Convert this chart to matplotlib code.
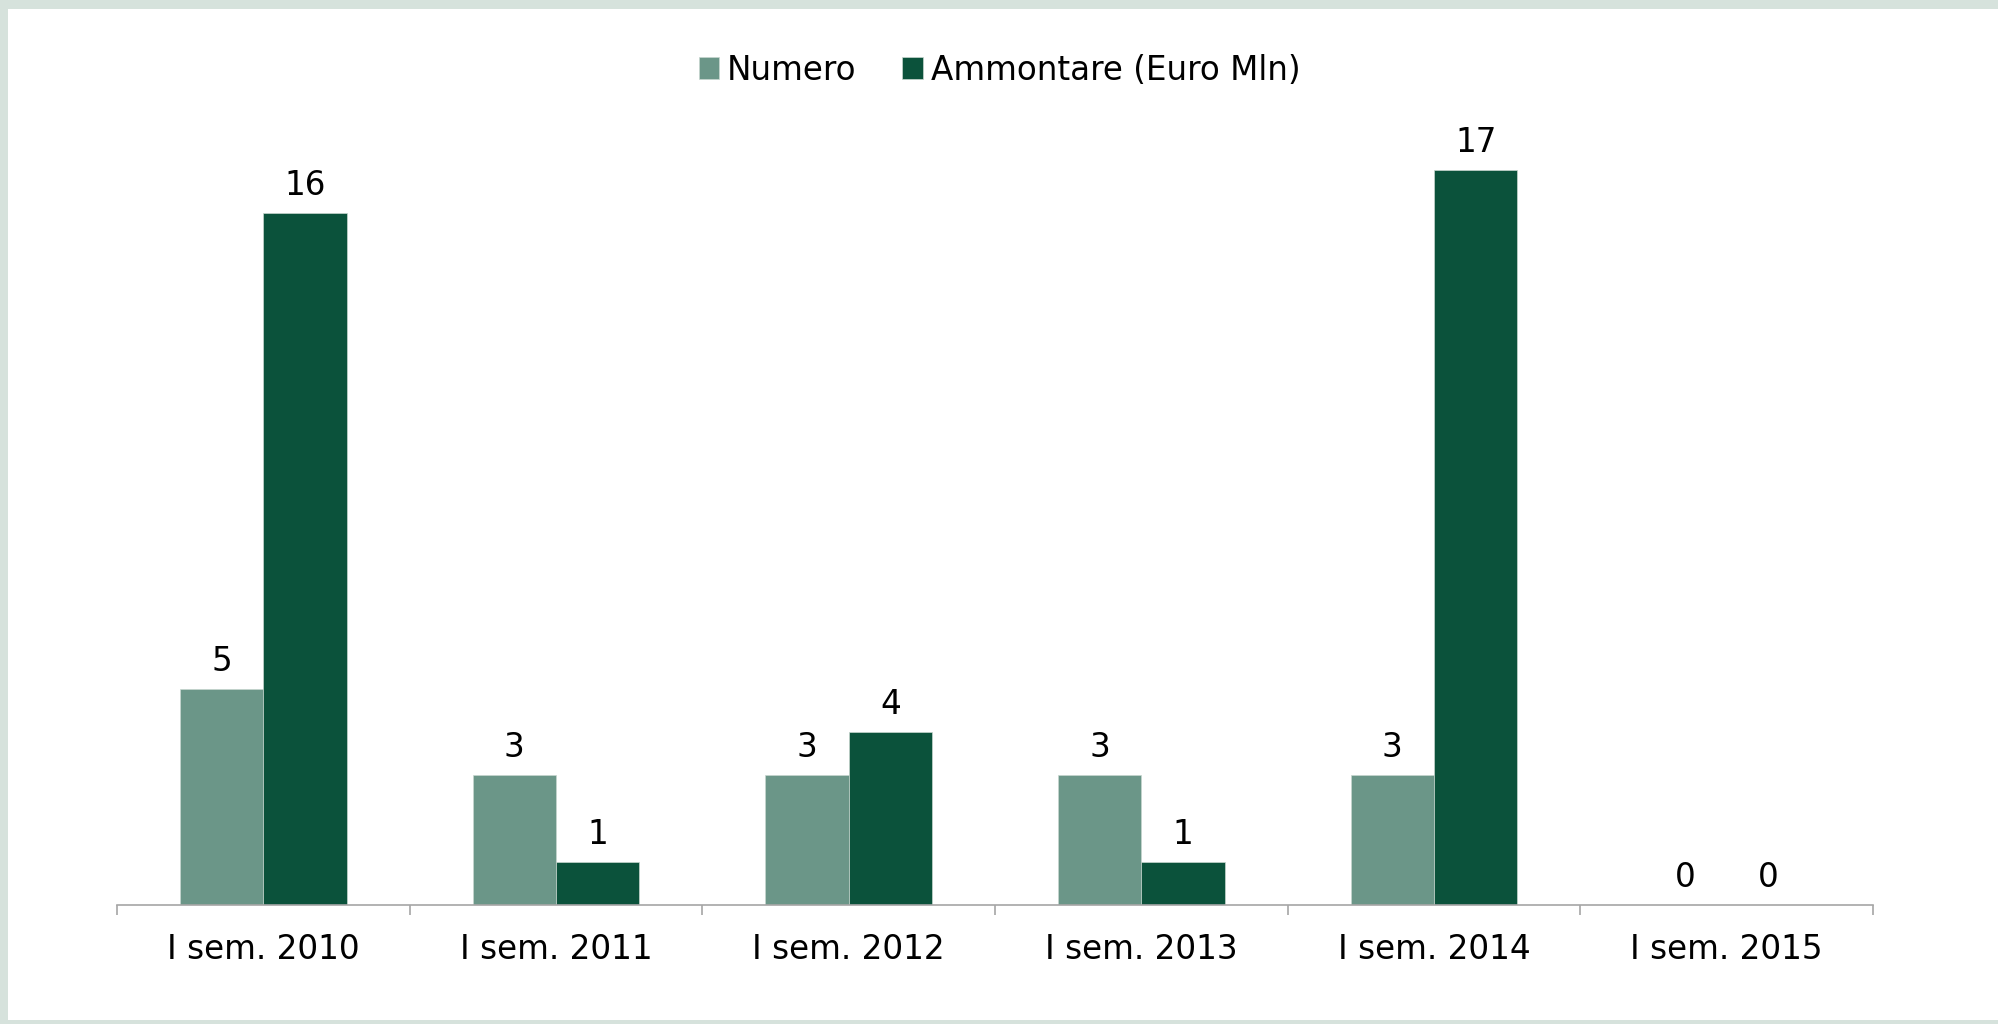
import matplotlib
matplotlib.use("Agg")
import matplotlib.pyplot as plt
import numpy as np
from matplotlib.patches import Rectangle

categories = ["I sem. 2010", "I sem. 2011", "I sem. 2012", "I sem. 2013", "I sem. 2014", "I sem. 2015"]
numero = [5, 3, 3, 3, 3, 0]
ammontare = [16, 1, 4, 1, 17, 0]
series_names = ["Numero", "Ammontare (Euro Mln)"]
colors = ["#6b9688", "#0b523b"]

plt.rcParams['font.family'] = ['DejaVu Sans']

W, H = 1999, 1024
fig = plt.figure(figsize=(W / 100, H / 100), dpi=100)
fig.patch.set_facecolor("#d6e2dc")
bg = Rectangle((8 / W, 4 / H), 1 - 8 / W, 1 - 13 / H,
               transform=fig.transFigure, facecolor="white",
               edgecolor="none", zorder=-10)
fig.add_artist(bg)

ax = fig.add_axes([117 / W, 119 / H, (1873 - 117) / W, (905 - 126.5) / H])
ax.set_facecolor("none")
ax.set_zorder(1)

x = np.arange(len(categories))
bw = 0.285
b1 = ax.bar(x - bw / 2, numero, bw, color=colors[0], label=series_names[0],
            edgecolor="#c8d6cf", linewidth=0.5)
b2 = ax.bar(x + bw / 2, ammontare, bw, color=colors[1], label=series_names[1],
            edgecolor="#c8d6cf", linewidth=0.5)
for b in (b1, b2):
    ax.bar_label(b, padding=8, fontsize=23.5, color="black")

ax.set_xlim(-0.5, len(categories) - 0.5)
ax.set_ylim(0, 18)
ax.set_yticks([])
for s in ("left", "right", "top"):
    ax.spines[s].set_visible(False)
ax.spines["bottom"].set_color("#a6a6a6")
ax.spines["bottom"].set_linewidth(1.2)

ax.set_xticks(x)
ax.set_xticklabels(categories, fontsize=23.5)
ax.tick_params(axis="x", which="major", length=0, pad=20)
ax.set_xticks(np.arange(-0.5, len(categories), 1.0), minor=True)
ax.tick_params(axis="x", which="minor", length=7.2, width=1.2, color="#a6a6a6")

leg = fig.legend(loc="center", bbox_to_anchor=(0.5, 1 - 70 / H), ncol=2,
                 frameon=False, fontsize=23.5, handlelength=0.62, handleheight=0.62,
                 handletextpad=0.25, columnspacing=1.4)
leg.set_zorder(2)

fig.savefig("out.png", dpi=100, facecolor=fig.get_facecolor())
